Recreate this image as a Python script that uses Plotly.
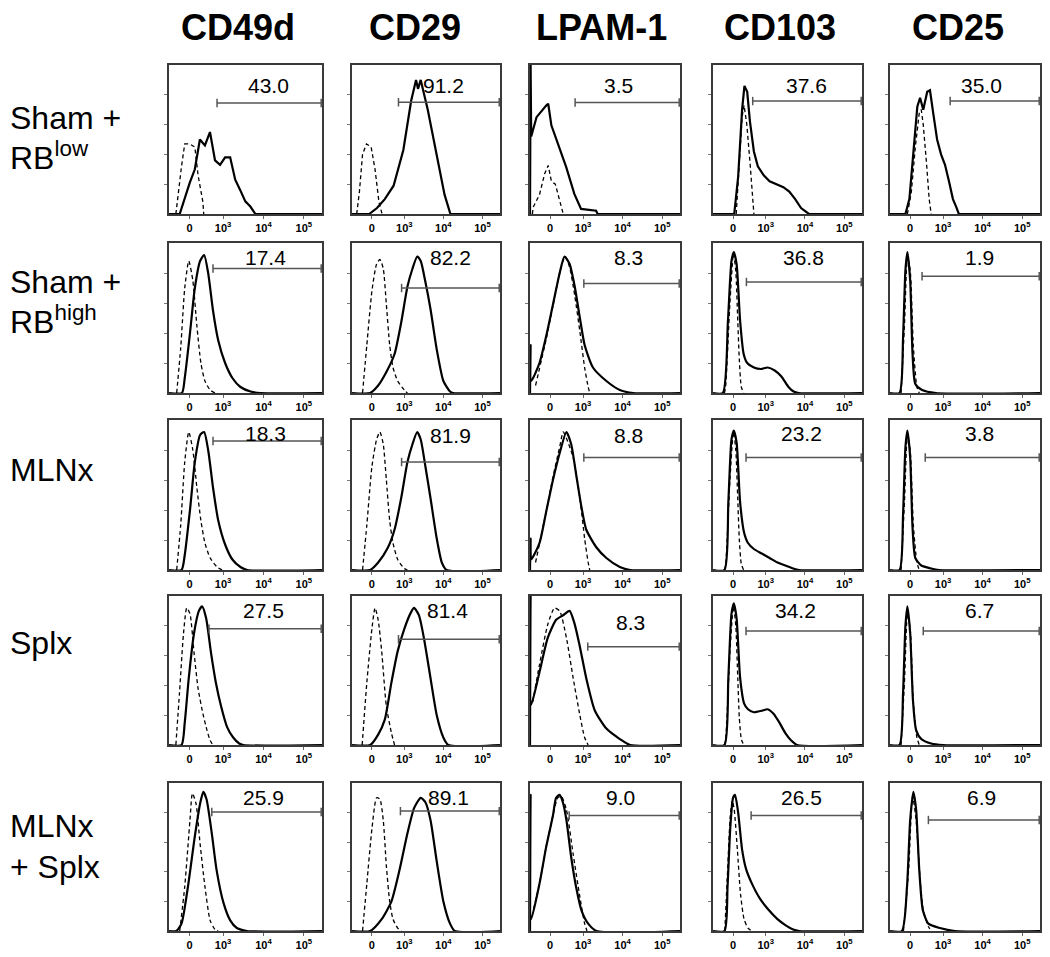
import plotly.graph_objects as go

# ---------------- data (x in display units: 0 -> 2.17, 10^3 -> 3, 10^4 -> 4, 10^5 -> 5; y in % of panel max) -------------
MARKERS = ["CD49d", "CD29", "LPAM-1", "CD103", "CD25"]
GROUP_LINES = [["Sham +", "RB<sup>low</sup>"], ["Sham +", "RB<sup>high</sup>"], ["MLNx"], ["Splx"], ["MLNx", "+ Splx"]]
TICK_VALS = [2.17, 3, 4, 5]
TICK_TEXT = ["0", "10<sup>3</sup>", "10<sup>4</sup>", "10<sup>5</sup>"]

PERCENT = [
    ["43.0", "91.2", "3.5", "37.6", "35.0"],
    ["17.4", "82.2", "8.3", "36.8", "1.9"],
    ["18.3", "81.9", "8.8", "23.2", "3.8"],
    ["27.5", "81.4", "8.3", "34.2", "6.7"],
    ["25.9", "89.1", "9.0", "26.5", "6.9"],
]
GATE_START = [
    [2.85, 2.85, 2.80, 2.67, 3.18],
    [2.75, 2.93, 3.02, 2.51, 2.47],
    [2.75, 2.93, 3.02, 2.50, 2.55],
    [2.65, 2.85, 3.12, 2.50, 2.50],
    [2.72, 2.90, 2.65, 2.63, 2.63],
]
GATE_Y = [
    [74.5, 75, 74.8, 75.8, 75.8],
    [83, 70, 73, 74, 77.8],
    [86, 72, 75, 75, 75],
    [78, 71, 66, 76.5, 76.5],
    [80.4, 81, 78, 78, 75],
]
LABEL_X = [
    [4.12, 4.0, 3.90, 4.03, 3.98],
    [4.05, 4.17, 4.15, 3.97, 3.93],
    [4.05, 4.17, 4.15, 3.90, 3.93],
    [4.00, 4.10, 4.20, 3.77, 3.93],
    [4.00, 4.12, 3.95, 3.90, 3.98],
]
LABEL_Y = [
    [86, 86, 86, 86, 86],
    [90, 90, 90, 90.5, 90],
    [91, 90, 90, 91, 91],
    [90.5, 90, 82, 90, 90],
    [90.5, 90.5, 90.5, 90.5, 90.5],
]

CD49D_SOLID_X = [
    [1.925, 2.175, 2.3, 2.425, 2.55, 2.675, 2.8, 2.925, 3.05, 3.175, 3.3, 3.425, 3.55, 3.675, 3.8],
    [1.98, 2.05, 2.18, 2.3, 2.43, 2.53, 2.63, 2.75, 2.88, 3.05, 3.23, 3.43, 3.68, 3.93],
    [1.97, 2.05, 2.18, 2.3, 2.43, 2.53, 2.63, 2.75, 2.88, 3.05, 3.23, 3.43, 3.6],
    [1.97, 2.05, 2.15, 2.28, 2.4, 2.48, 2.58, 2.7, 2.82, 2.95, 3.1, 3.25, 3.4, 3.5],
    [1.84, 1.97, 2.13, 2.3, 2.43, 2.51, 2.59, 2.72, 2.84, 3.01, 3.18, 3.34, 3.59],
]
CD49D_SOLID_Y = [
    [0, 21, 30, 50, 46, 55, 36, 33, 38, 38, 23, 16, 8.5, 5, 0],
    [0, 10, 40, 70, 88, 92, 80, 55, 35, 20, 10, 4, 1, 0],
    [0, 10, 40, 72, 90, 92, 80, 55, 33, 17, 7, 2, 0],
    [0, 15, 45, 75, 90, 93, 85, 62, 42, 26, 12, 5, 1, 0],
    [0, 5, 30, 64, 86, 94, 89, 66, 41, 19, 7, 2, 0],
]
CD49D_DASH_X = [
    [1.83, 1.88, 1.97, 2.05, 2.17, 2.3, 2.38, 2.5, 2.52],
    [1.85, 1.95, 2.05, 2.15, 2.25, 2.35, 2.45, 2.55, 2.68, 2.8],
    [1.85, 1.95, 2.05, 2.15, 2.25, 2.35, 2.45, 2.55, 2.68, 2.85, 2.98],
    [1.83, 1.92, 2.02, 2.1, 2.18, 2.28, 2.38, 2.5, 2.6, 2.68, 2.75],
    [1.925, 2.05, 2.18, 2.24, 2.33, 2.43, 2.55, 2.68, 2.8, 2.88],
]
CD49D_DASH_Y = [
    [0, 12, 32, 47, 47, 45, 26, 8, 0],
    [0, 30, 70, 88, 75, 45, 20, 8, 2, 0],
    [0, 30, 72, 92, 80, 55, 33, 18, 8, 2, 0],
    [0, 35, 75, 92, 88, 62, 38, 21, 10, 3, 0],
    [0, 30, 75, 93, 86, 59, 30, 7, 1, 0],
]

CD29_SOLID_X = [
    [2.1, 2.3, 2.5, 2.725, 2.975, 3.175, 3.3, 3.35, 3.42, 3.6, 3.85, 4.03, 4.18],
    [2.125, 2.33, 2.54, 2.75, 2.92, 3.08, 3.21, 3.33, 3.42, 3.54, 3.67, 3.83, 4.0, 4.17, 4.25],
    [2.125, 2.33, 2.58, 2.75, 2.92, 3.08, 3.21, 3.33, 3.42, 3.54, 3.67, 3.83, 3.96, 4.08],
    [2.125, 2.33, 2.5, 2.67, 2.83, 3.0, 3.17, 3.25, 3.375, 3.5, 3.67, 3.83, 4.0, 4.125],
    [2.125, 2.42, 2.67, 2.875, 3.08, 3.25, 3.42, 3.54, 3.67, 3.83, 4.0, 4.17, 4.29],
]
CD29_SOLID_Y = [
    [0, 4, 10, 19, 43, 76, 90, 84, 90, 70, 36, 13, 0],
    [0, 5, 14, 26, 47, 71, 83, 91, 88, 74, 56, 29, 8, 1, 0],
    [0, 5, 15, 27, 48, 72, 84, 92, 87, 69, 48, 21, 5, 0],
    [0, 7, 17, 42, 63, 78, 89, 92, 87, 72, 45, 20, 5, 0],
    [0, 8, 20, 41, 66, 83, 90, 87, 75, 47, 20, 5, 0],
]
CD29_DASH_X = [
    [1.78, 1.85, 1.93, 2.03, 2.15, 2.25, 2.35, 2.43],
    [1.93, 2.04, 2.17, 2.29, 2.375, 2.46, 2.54, 2.625, 2.71, 2.83, 3.0, 3.08],
    [1.93, 2.04, 2.17, 2.29, 2.375, 2.46, 2.54, 2.625, 2.71, 2.83, 3.0, 3.08],
    [1.92, 2.04, 2.17, 2.25, 2.33, 2.42, 2.54, 2.67, 2.75],
    [1.93, 2.04, 2.17, 2.29, 2.375, 2.46, 2.54, 2.625, 2.71, 2.83, 2.92],
]
CD29_DASH_Y = [
    [0, 15, 40, 47, 45, 30, 8, 0],
    [0, 32, 68, 86, 89, 83, 59, 32, 17, 8, 2, 0],
    [0, 30, 69, 87, 92, 84, 60, 33, 18, 7, 1, 0],
    [0, 42, 78, 92, 84, 63, 26, 8, 0],
    [0, 32, 69, 90, 89, 75, 44, 20, 8, 2, 0],
]

LPAM_SOLID_X = [
    [1.66, 1.675, 1.69, 1.825, 2.075, 2.12, 2.2, 2.37, 2.575, 2.78, 2.95, 3.33, 3.37],
    [1.66, 1.675, 1.69, 1.9, 2.07, 2.24, 2.41, 2.53, 2.66, 2.79, 2.92, 3.04, 3.25, 3.59, 3.93, 4.27],
    [1.66, 1.675, 1.69, 1.9, 2.07, 2.24, 2.41, 2.58, 2.7, 2.83, 2.96, 3.08, 3.34, 3.59, 3.93, 4.19],
    [1.66, 1.675, 1.69, 1.9, 2.11, 2.32, 2.49, 2.66, 2.79, 2.92, 3.08, 3.3, 3.59, 3.93, 4.19],
    [1.66, 1.675, 1.69, 1.9, 2.07, 2.24, 2.32, 2.41, 2.49, 2.58, 2.7, 2.83, 2.96, 3.13, 3.34],
]
LPAM_SOLID_Y = [
    [0, 100, 52, 65, 73, 74, 59.5, 47, 31.5, 13.5, 3.4, 2.2, 0],
    [0, 32, 8, 20, 38, 59, 80, 91, 86, 71, 50, 32, 17, 8, 2, 0],
    [0, 21, 7, 18, 39, 60, 78, 92, 84, 63, 42, 27, 15, 8, 2, 0],
    [0, 100, 27, 49, 72, 84, 87, 90, 81, 66, 45, 23, 11, 4, 0],
    [0, 92, 8, 32, 57, 78, 90, 92, 87, 75, 50, 29, 14, 5, 0],
]
LPAM_DASH_X = [
    [1.72, 1.74, 1.9, 2.03, 2.12, 2.2, 2.3, 2.42, 2.5],
    [1.8, 2.07, 2.24, 2.41, 2.55, 2.66, 2.79, 2.92, 3.04, 3.13, 3.17],
    [1.8, 2.07, 2.24, 2.41, 2.5, 2.75, 2.92, 3.04, 3.13, 3.17],
    [1.73, 1.9, 2.11, 2.28, 2.41, 2.58, 2.75, 2.92, 3.04, 3.13],
    [1.75, 1.9, 2.07, 2.24, 2.36, 2.45, 2.58, 2.75, 2.92, 3.04, 3.1],
]
LPAM_DASH_Y = [
    [0, 4.5, 13, 27, 32.6, 22, 20, 9, 0],
    [5, 36, 58, 80, 91, 84, 65, 41, 17, 4, 0],
    [5, 39, 62, 82, 92, 75, 48, 21, 5, 0],
    [29, 54, 81, 92, 90, 72, 45, 20, 5, 0],
    [15, 32, 57, 78, 90, 91, 82, 52, 23, 5, 0],
]

CD103_SOLID_X = [
    [2.2, 2.3, 2.4, 2.46, 2.53, 2.6, 2.7, 2.8, 2.95, 3.1, 3.3, 3.45, 3.6, 3.75, 3.9, 4.0, 4.1],
    [1.91, 2.04, 2.13, 2.19, 2.26, 2.35, 2.44, 2.53, 2.7, 2.88, 3.05, 3.23, 3.4, 3.58, 3.71, 3.84],
    [1.95, 2.05, 2.13, 2.19, 2.26, 2.35, 2.45, 2.55, 2.7, 2.9, 3.1, 3.3, 3.5, 3.7, 3.85],
    [1.95, 2.05, 2.13, 2.19, 2.26, 2.35, 2.45, 2.55, 2.7, 2.9, 3.05, 3.2, 3.35, 3.5, 3.65, 3.8],
    [1.95, 2.03, 2.1, 2.17, 2.22, 2.3, 2.4, 2.5, 2.65, 2.85, 3.05, 3.3, 3.5, 3.7, 3.85],
]
CD103_SOLID_Y = [
    [0, 25, 70, 86, 82, 62, 42, 32, 26, 22, 20, 18, 15, 10, 4, 2, 0],
    [0, 48, 88, 94, 86, 48, 26, 20, 17, 16, 17, 15, 11, 4, 1, 0],
    [0, 45, 87, 93, 85, 45, 25, 18, 14, 11, 8, 5, 3, 1, 0],
    [0, 45, 88, 95, 85, 45, 28, 24, 22, 23, 24, 21, 15, 8, 3, 0],
    [0, 30, 70, 90, 92, 80, 55, 42, 32, 22, 15, 8, 4, 1, 0],
]
CD103_DASH_X = [
    [2.25, 2.32, 2.4, 2.45, 2.52, 2.6, 2.67, 2.7],
    [1.95, 1.98, 2.09, 2.18, 2.24, 2.29, 2.33, 2.38, 2.44],
    [1.95, 1.98, 2.09, 2.18, 2.24, 2.29, 2.33, 2.38, 2.44],
    [1.95, 1.98, 2.09, 2.18, 2.24, 2.29, 2.33, 2.38, 2.44],
    [1.96, 2.03, 2.1, 2.15, 2.2, 2.28, 2.36, 2.45, 2.55, 2.65],
]
CD103_DASH_Y = [
    [0, 30, 65, 73, 60, 35, 10, 0],
    [0, 4, 60, 93, 81, 48, 22, 4, 0],
    [0, 3, 60, 92, 80, 47, 20, 4, 0],
    [0, 3, 62, 93, 80, 45, 18, 4, 0],
    [0, 40, 78, 88, 82, 55, 25, 8, 2, 0],
]

CD25_SOLID_X = [
    [2.05, 2.15, 2.25, 2.35, 2.42, 2.5, 2.6, 2.67, 2.75, 2.85, 2.95, 3.05, 3.15, 3.25, 3.33, 3.4],
    [1.9, 1.99, 2.05, 2.1, 2.17, 2.23, 2.3, 2.47, 2.82],
    [1.9, 1.99, 2.05, 2.1, 2.17, 2.23, 2.3, 2.45, 2.7, 2.9],
    [1.9, 1.99, 2.05, 2.1, 2.17, 2.24, 2.32, 2.45, 2.7, 3.0],
    [1.96, 2.09, 2.17, 2.25, 2.32, 2.4, 2.49, 2.63, 2.92, 3.3],
]
CD25_SOLID_Y = [
    [0, 10, 40, 72, 78, 70, 82, 83, 68, 50, 40, 33, 22, 10, 5, 0],
    [0, 37, 82, 94, 75, 26, 6, 2, 0],
    [0, 37, 82, 93, 75, 28, 8, 3, 1, 0],
    [0, 35, 80, 93, 75, 30, 10, 4, 1, 0],
    [0, 30, 75, 94, 82, 41, 14, 5, 2, 0],
]
CD25_DASH_X = [
    [2.1, 2.2, 2.3, 2.4, 2.45, 2.5, 2.58, 2.65, 2.7],
    [1.94, 2.03, 2.1, 2.17, 2.25, 2.34, 2.4],
    [1.94, 2.03, 2.1, 2.17, 2.25, 2.34, 2.4],
    [1.94, 2.03, 2.1, 2.17, 2.25, 2.34, 2.4],
    [2.0, 2.13, 2.23, 2.32, 2.42, 2.5, 2.63, 2.71],
]
CD25_DASH_Y = [
    [0, 15, 45, 68, 70, 60, 35, 10, 0],
    [0, 48, 91, 82, 31, 4, 0],
    [0, 48, 90, 80, 30, 5, 0],
    [0, 45, 88, 78, 28, 5, 0],
    [0, 41, 91, 75, 35, 14, 3, 0],
]

# ---------------- layout geometry (page pixels; the page body adds an 8px offset) ----------------
OFF = 8
W, H = 1050 - OFF, 957 - OFF
XMIN, XMAX = 1.66, 5.45
COL_LEFT = [169, 352, 530, 713, 890]
COL_RIGHT = [322, 500, 680, 862, 1040]
ROW_TOP = [65, 243, 420, 596, 783]
ROW_BOTTOM = [214, 393, 570, 745, 931]
TITLE_X = [238, 415, 601, 780, 958]


def px_x(p):
    return (p - OFF) / W


def px_y(p):
    return 1 - (p - OFF) / H


SOLID_X = [CD49D_SOLID_X, CD29_SOLID_X, LPAM_SOLID_X, CD103_SOLID_X, CD25_SOLID_X]
SOLID_Y = [CD49D_SOLID_Y, CD29_SOLID_Y, LPAM_SOLID_Y, CD103_SOLID_Y, CD25_SOLID_Y]
DASH_X = [CD49D_DASH_X, CD29_DASH_X, LPAM_DASH_X, CD103_DASH_X, CD25_DASH_X]
DASH_Y = [CD49D_DASH_Y, CD29_DASH_Y, LPAM_DASH_Y, CD103_DASH_Y, CD25_DASH_Y]

SANS = "Liberation Sans, Arial, sans-serif"


def dedupe(xs, ys):
    ox, oy = [], []
    for a, b in zip(xs, ys):
        if ox and ox[-1] == a and oy[-1] == b:
            continue
        ox.append(a)
        oy.append(b)
    return ox, oy


fig = go.Figure()
layout = dict(
    width=W, height=H, margin=dict(l=0, r=0, t=0, b=0),
    paper_bgcolor="white", plot_bgcolor="white", showlegend=False,
)
annotations = []

for r in range(5):
    for c in range(5):
        i = r * 5 + c + 1
        xa = "x" if i == 1 else f"x{i}"
        ya = "y" if i == 1 else f"y{i}"
        xkey = "xaxis" if i == 1 else f"xaxis{i}"
        ykey = "yaxis" if i == 1 else f"yaxis{i}"
        layout[xkey] = dict(
            domain=[px_x(COL_LEFT[c]), px_x(COL_RIGHT[c])], anchor=ya, range=[XMIN, XMAX],
            showgrid=False, zeroline=False, showline=True, mirror=True,
            linecolor="#3a3a3a", linewidth=1.5,
            tickmode="array", tickvals=TICK_VALS, ticktext=TICK_TEXT,
            ticks="outside", ticklen=3, tickcolor="#666", tickwidth=1,
            tickfont=dict(family=SANS, size=11, color="black", weight="bold"),
            fixedrange=True,
        )
        layout[ykey] = dict(
            domain=[px_y(ROW_BOTTOM[r]), px_y(ROW_TOP[r])], anchor=xa, range=[0, 100],
            showgrid=False, zeroline=False, showline=True, mirror=True,
            linecolor="#3a3a3a", linewidth=1.5,
            tickmode="array", tickvals=[20, 40, 60, 80], showticklabels=False,
            ticks="outside", ticklen=3, tickcolor="#777", tickwidth=1,
            fixedrange=True,
        )
        shape = "linear" if r == 0 else "spline"
        dx, dy = dedupe(DASH_X[c][r], DASH_Y[c][r])
        fig.add_trace(go.Scatter(
            x=dx, y=dy, xaxis=xa, yaxis=ya, mode="lines",
            line=dict(color="black", width=1.3, dash="4px,3px", shape=shape, smoothing=0.6),
            hoverinfo="skip",
        ))
        sx, sy = dedupe([XMIN] + SOLID_X[c][r] + [XMAX], [0] + SOLID_Y[c][r] + [0])
        fig.add_trace(go.Scatter(
            x=sx, y=sy, xaxis=xa, yaxis=ya, mode="lines",
            line=dict(color="black", width=2.2, shape=shape, smoothing=0.6),
            hoverinfo="skip",
        ))
        fig.add_trace(go.Scatter(
            x=[GATE_START[r][c], XMAX - 0.02], y=[GATE_Y[r][c], GATE_Y[r][c]],
            xaxis=xa, yaxis=ya, mode="lines+markers",
            line=dict(color="#555", width=1.5),
            marker=dict(symbol="line-ns", size=6, line=dict(color="#555", width=1.5)),
            hoverinfo="skip", cliponaxis=False,
        ))
        annotations.append(dict(
            x=LABEL_X[r][c], y=LABEL_Y[r][c], xref=xa, yref=ya,
            text=PERCENT[r][c], showarrow=False, xanchor="center", yanchor="middle",
            font=dict(family=SANS, size=21, color="black"),
        ))

# column titles
for c, name in enumerate(MARKERS):
    annotations.append(dict(
        x=px_x(TITLE_X[c]), y=px_y(28), xref="paper", yref="paper",
        text=f"<b>{name}</b>", showarrow=False, xanchor="center", yanchor="middle",
        font=dict(family=SANS, size=36, color="black"),
    ))

# row labels
ROW_LABEL_Y = [[118, 156], [282, 320], [470], [643], [826, 867]]
for r, lines in enumerate(GROUP_LINES):
    for k, line in enumerate(lines):
        annotations.append(dict(
            x=0, y=px_y(ROW_LABEL_Y[r][k]), xref="paper", yref="paper",
            text=line, showarrow=False, xanchor="left", yanchor="middle",
            font=dict(family=SANS, size=32, color="black"),
        ))

layout["annotations"] = annotations
fig.update_layout(**layout)
fig.write_html("out.html")
